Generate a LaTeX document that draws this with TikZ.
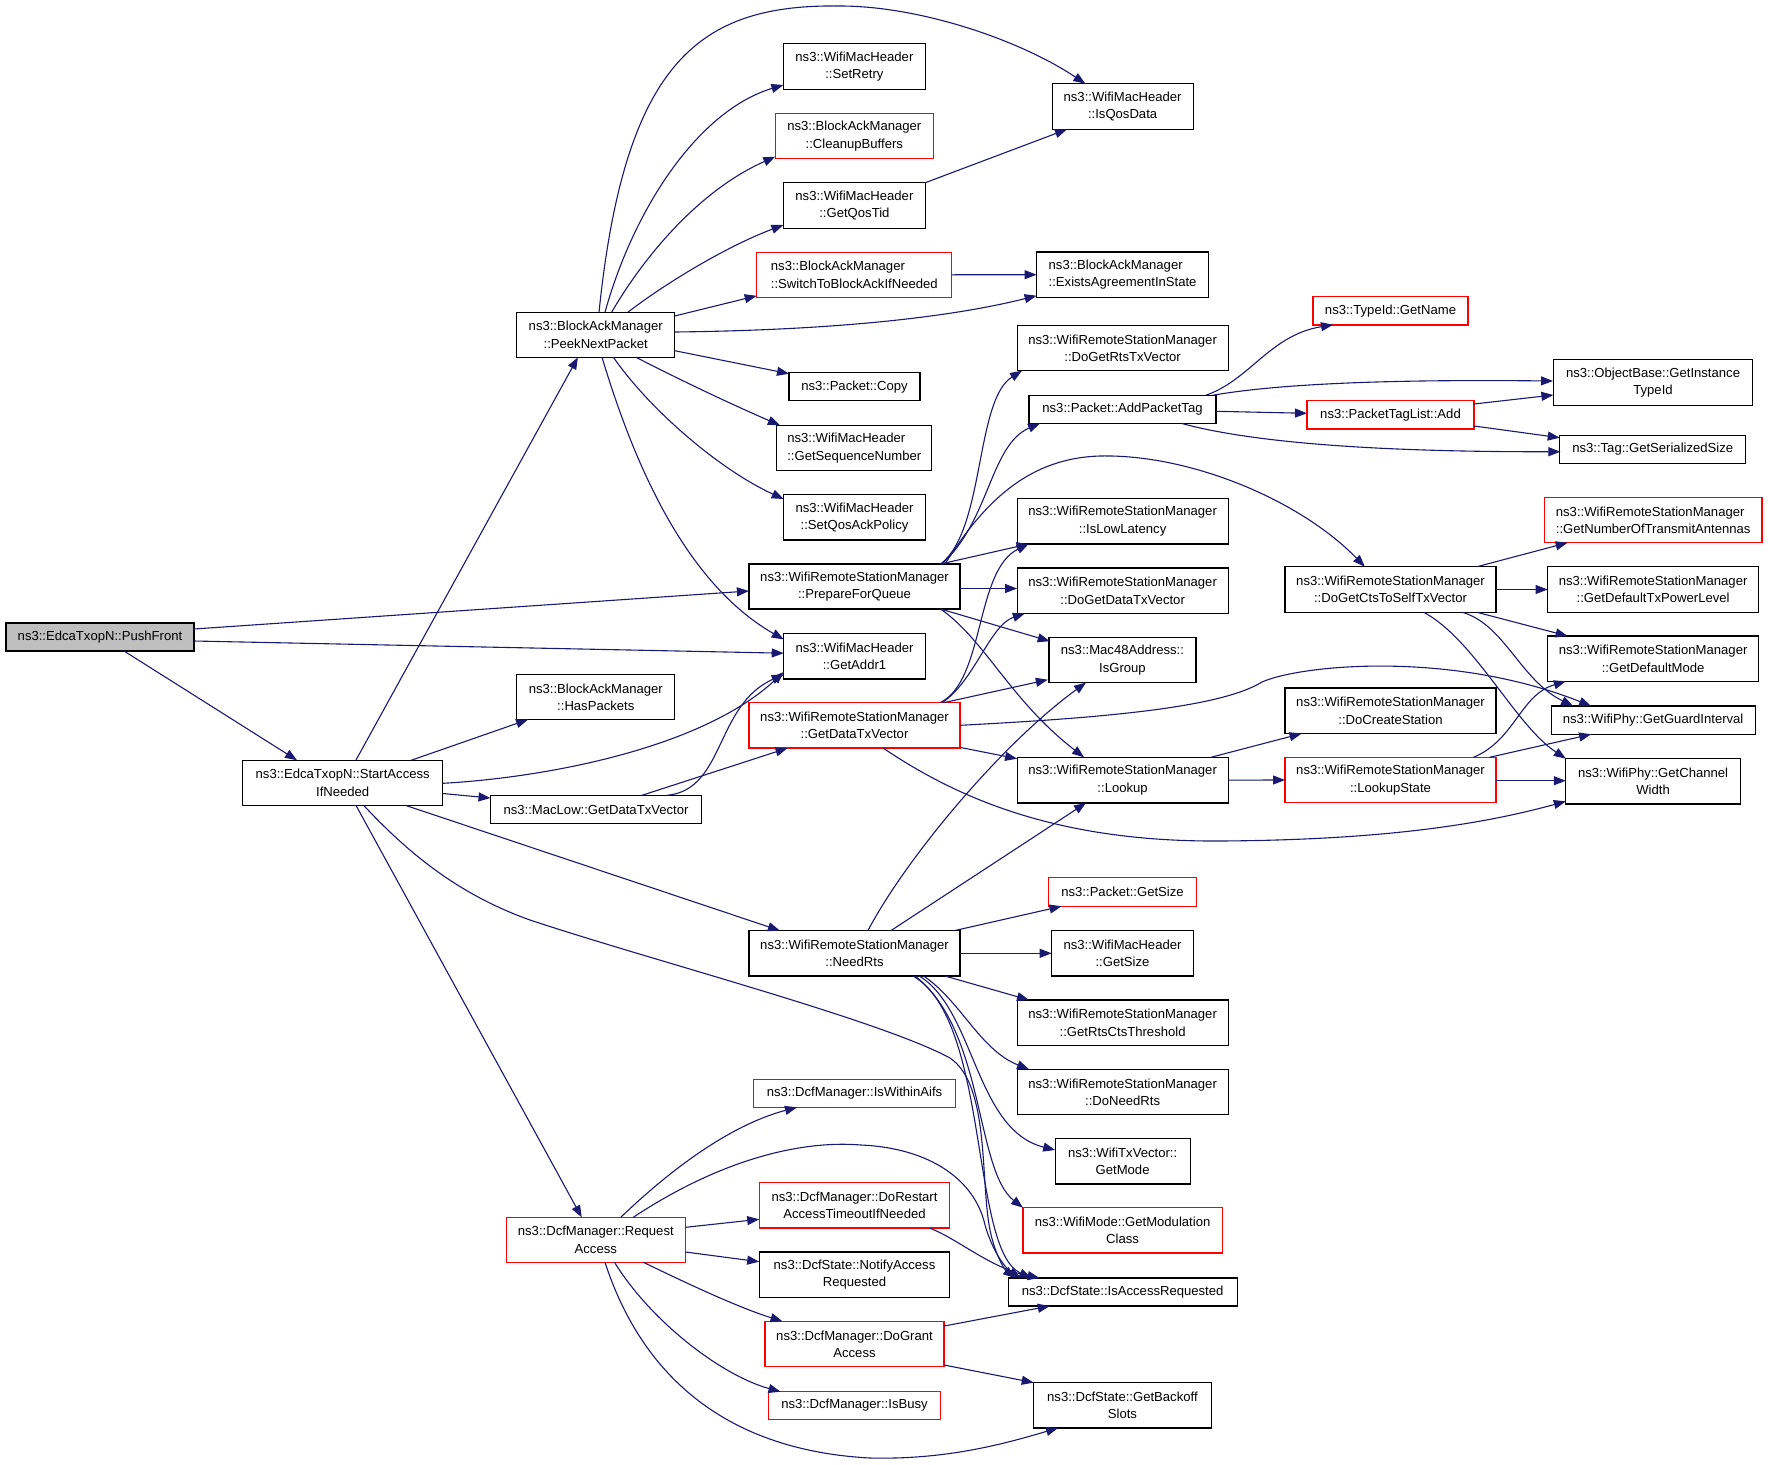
\documentclass[tikz,border=0pt]{standalone}
\usepackage{fontspec}
\setmainfont{Liberation Sans}
\usetikzlibrary{arrows.meta,calc}
\definecolor{mblue}{HTML}{191970}
\definecolor{gfill}{HTML}{BFBFBF}
\newcommand\fnt{\fontsize{13.1}{17.3}\selectfont}
\tikzset{
  box/.style={draw=black, line width=1.2pt, fill=white, inner sep=0pt, align=center, font=\fnt, text=black},
  rbox/.style={draw=red},
  gbox/.style={fill=gfill},
  ed/.style={draw=mblue, line width=1.1pt, -{Triangle[length=12pt,width=9pt]}}
}
\newcommand\bx[7][]{\node[box,#1,minimum width=#5pt,minimum height=#6pt] (#2) at (#3,#4) {#7};}
\begin{document}
\begin{tikzpicture}[x=1pt,y=-1pt]
\useasboundingbox (0,0) rectangle (1768,1464);
% nodes
\bx[gbox]{PF}{100}{637}{188}{28}{ns3::EdcaTxopN::PushFront}
\bx{SA}{342.7}{782.8}{200}{45}{ns3::EdcaTxopN::StartAccess\\IfNeeded}
\bx{PNP}{595.7}{334.7}{158}{45}{ns3::BlockAckManager\\::PeekNextPacket}
\bx{SR}{854.4}{66.5}{142}{45.5}{ns3::WifiMacHeader\\::SetRetry}
\bx[rbox]{CB}{854.3}{136}{158}{45.5}{ns3::BlockAckManager\\::CleanupBuffers}
\bx{GQT}{854.4}{205.5}{142}{45.5}{ns3::WifiMacHeader\\::GetQosTid}
\bx[rbox,align=left]{STB}{854.3}{274.8}{195}{45}{ns3::BlockAckManager\\::SwitchToBlockAckIfNeeded}
\bx{IQD}{1122.6}{106.5}{141}{45.5}{ns3::WifiMacHeader\\::IsQosData}
\bx[align=left]{EAS}{1122.6}{274.7}{172}{45.3}{ns3::BlockAckManager\\::ExistsAgreementInState}
\bx{PC}{854.5}{386.7}{131}{28}{ns3::Packet::Copy}
\bx[align=left]{GSN}{854.3}{448}{155}{45.4}{ns3::WifiMacHeader\\::GetSequenceNumber}
\bx{SQA}{854.5}{517.3}{142}{45.5}{ns3::WifiMacHeader\\::SetQosAckPolicy}
\bx{PFQ}{854.5}{586.5}{211}{45}{ns3::WifiRemoteStationManager\\::PrepareForQueue}
\bx{GA1}{854.5}{656.2}{142}{45.5}{ns3::WifiMacHeader\\::GetAddr1}
\bx{HP}{595.8}{697}{158}{45}{ns3::BlockAckManager\\::HasPackets}
\bx[rbox]{GDT}{854.5}{725.3}{211}{45.5}{ns3::WifiRemoteStationManager\\::GetDataTxVector}
\bx{MLG}{596}{809.5}{211}{28.4}{ns3::MacLow::GetDataTxVector}
\bx{NR}{854.5}{953.3}{211}{45.4}{ns3::WifiRemoteStationManager\\::NeedRts}
\bx{DGR}{1122.6}{348}{211}{45.4}{ns3::WifiRemoteStationManager\\::DoGetRtsTxVector}
\bx{APT}{1122.5}{409.3}{187}{28}{ns3::Packet::AddPacketTag}
\bx[rbox]{TGN}{1390.5}{310.8}{155}{28.3}{ns3::TypeId::GetName}
\bx{OBG}{1653}{382.5}{199}{45.6}{ns3::ObjectBase::GetInstance\\TypeId}
\bx[rbox]{PTA}{1390.5}{414.8}{167}{28.3}{ns3::PacketTagList::Add}
\bx{TGS}{1652.7}{449.3}{186}{28}{ns3::Tag::GetSerializedSize}
\bx{ILL}{1122.6}{521.2}{211}{45.6}{ns3::WifiRemoteStationManager\\::IsLowLatency}
\bx{DGD}{1122.6}{590.7}{211}{45.6}{ns3::WifiRemoteStationManager\\::DoGetDataTxVector}
\bx{MIG}{1122.4}{660}{147}{45.2}{ns3::Mac48Address::\\IsGroup}
\bx{LU}{1122.6}{780.1}{211}{45.6}{ns3::WifiRemoteStationManager\\::Lookup}
\bx[rbox]{PGS}{1122.5}{892}{148}{28.6}{ns3::Packet::GetSize}
\bx{WGS}{1122.5}{953.3}{141.6}{45.3}{ns3::WifiMacHeader\\::GetSize}
\bx{GRC}{1122.6}{1022.7}{211}{45.3}{ns3::WifiRemoteStationManager\\::GetRtsCtsThreshold}
\bx{DNR}{1122.6}{1092}{211}{45.4}{ns3::WifiRemoteStationManager\\::DoNeedRts}
\bx{TGM}{1122.6}{1161.3}{135}{45.3}{ns3::WifiTxVector::\\GetMode}
\bx[rbox]{GMC}{1122.6}{1230.3}{199.4}{45.3}{ns3::WifiMode::GetModulation\\Class}
\bx{IAR}{1122.6}{1292}{229}{28}{ns3::DcfState::IsAccessRequested}
\bx{GBS}{1122.4}{1405.3}{177.4}{45.3}{ns3::DcfState::GetBackoff\\Slots}
\bx[rbox]{IWA}{854.5}{1093.3}{201.5}{28}{ns3::DcfManager::IsWithinAifs}
\bx[rbox]{DRA}{854.5}{1205.3}{190.7}{45.3}{ns3::DcfManager::DoRestart\\AccessTimeoutIfNeeded}
\bx{NAR}{854.5}{1274.7}{190.7}{45.3}{ns3::DcfState::NotifyAccess\\Requested}
\bx[rbox]{DGA}{854.5}{1344}{179}{45.4}{ns3::DcfManager::DoGrant\\Access}
\bx[rbox]{IB}{854.5}{1405.3}{171.7}{28}{ns3::DcfManager::IsBusy}
\bx[rbox]{RA}{595.8}{1239.8}{179}{45}{ns3::DcfManager::Request\\Access}
\bx[rbox,align=left]{GNA}{1653.2}{520.2}{217.7}{45}{ns3::WifiRemoteStationManager\\::GetNumberOfTransmitAntennas}
\bx{DCS}{1390.5}{589.5}{211}{45.6}{ns3::WifiRemoteStationManager\\::DoGetCtsToSelfTxVector}
\bx{GTP}{1653.1}{589.5}{211}{45.6}{ns3::WifiRemoteStationManager\\::GetDefaultTxPowerLevel}
\bx{GDM}{1653.1}{658.7}{211}{45.3}{ns3::WifiRemoteStationManager\\::GetDefaultMode}
\bx{GGI}{1653.1}{720.2}{204}{28.3}{ns3::WifiPhy::GetGuardInterval}
\bx{GCW}{1653.1}{781.3}{174.6}{45.3}{ns3::WifiPhy::GetChannel\\Width}
\bx{DCR}{1390.5}{710.8}{211}{45.7}{ns3::WifiRemoteStationManager\\::DoCreateStation}
\bx[rbox]{LS}{1390.5}{780}{211}{45.4}{ns3::WifiRemoteStationManager\\::LookupState}
% edges
\draw[ed] ($(PF)+(24,14)$) -- ($(SA)+(-45.7,-22.6)$);
\draw[ed] ($(PF)+(94,-8)$) -- ($(PFQ)+(-105.6,4.5)$);
\draw[ed] ($(PF)+(94,4)$) -- ($(GA1)+(-70.8,-3)$);
\draw[ed] ($(SA)+(13.2,-22.6)$) -- ($(PNP)+(-17.8,22.6)$);
\draw[ed] ($(SA)+(68.7,-22.6)$) -- ($(HP)+(-67.7,22.5)$);
\draw[ed] ($(SA)+(100,0.5)$) .. controls (540,778) and (700,750) .. ($(GA1)+(-70.8,15.8)$);
\draw[ed] ($(SA)+(100,10.7)$) -- ($(MLG)+(-105.5,-11.5)$);
\draw[ed] ($(SA)+(63,22.6)$) -- ($(NR)+(-74.6,-22.7)$);
\draw[ed] ($(SA)+(21,22.6)$) .. controls (410,855) and (460,895) .. (530,920) .. controls (650,960) and (880,1020) .. (950,1058) .. controls (990,1085) and (980,1180) .. (990,1230) .. controls (995,1255) and (1005,1270) .. ($(IAR)+(-107.6,-14)$);
\draw[ed] ($(SA)+(13.3,22.6)$) -- ($(RA)+(-14.1,-22.5)$);
\draw[ed] ($(PNP)+(9.3,-22.6)$) .. controls (635,205) and (700,110) .. ($(SR)+(-71,18.5)$);
\draw[ed] ($(PNP)+(16,-22.6)$) .. controls (645,255) and (700,190) .. ($(CB)+(-79,20.7)$);
\draw[ed] ($(PNP)+(32.3,-22.6)$) .. controls (670,280) and (730,245) .. ($(GQT)+(-71,19.5)$);
\draw[ed] ($(PNP)+(79,-18.7)$) -- ($(STB)+(-97.6,21)$);
\draw[ed] ($(PNP)+(79,-2.7)$) .. controls (850,330) and (960,315) .. ($(EAS)+(-86,21)$);
\draw[ed] ($(PNP)+(3.3,-22.6)$) .. controls (625,60) and (700,4) .. (840,6) .. controls (920,6) and (1020,40) .. ($(IQD)+(-37.3,-22.8)$);
\draw[ed] ($(PNP)+(79,16)$) -- ($(PC)+(-65.5,-13)$);
\draw[ed] ($(PNP)+(40.3,22.6)$) .. controls (690,385) and (740,408) .. ($(GSN)+(-74.4,-22.7)$);
\draw[ed] ($(PNP)+(17.7,22.6)$) .. controls (650,410) and (720,470) .. ($(SQA)+(-70.8,-18.3)$);
\draw[ed] ($(PNP)+(6.3,22.6)$) .. controls (630,450) and (680,580) .. ($(GA1)+(-70.8,-16.8)$);
\draw[ed] ($(GQT)+(70.9,-22.8)$) -- ($(IQD)+(-55.6,22.8)$);
\draw[ed] ($(STB)+(97.7,0)$) -- ($(EAS)+(-86,0)$);
\draw[ed] ($(MLG)+(71,-14.2)$) .. controls (725,790) and (715,705) .. ($(GA1)+(-70.8,18.3)$);
\draw[ed] ($(MLG)+(46,-14.2)$) -- ($(GDT)+(-67,22.8)$);
\draw[ed] ($(PFQ)+(86.1,-22.5)$) .. controls (985,530) and (975,400) .. ($(DGR)+(-100.6,22.7)$);
\draw[ed] ($(PFQ)+(87.5,-22.5)$) .. controls (990,520) and (990,445) .. ($(APT)+(-82.5,14)$);
\draw[ed] ($(PFQ)+(90.5,-22.5)$) .. controls (985,500) and (1030,458) .. (1100,456) .. controls (1190,454) and (1300,500) .. ($(DCS)+(-25.7,-22.8)$);
\draw[ed] ($(PFQ)+(86,-22.5)$) -- ($(ILL)+(-94,22.8)$);
\draw[ed] ($(PFQ)+(105.6,2)$) -- ($(DGD)+(-105.5,-2.2)$);
\draw[ed] ($(PFQ)+(86.1,22.5)$) -- ($(MIG)+(-72.7,-18.8)$);
\draw[ed] ($(PFQ)+(86.1,22.5)$) .. controls (985,640) and (1010,700) .. ($(LU)+(-38.6,-22.8)$);
\draw[ed] ($(GDT)+(86,-22.8)$) .. controls (985,680) and (975,570) .. ($(ILL)+(-94,22.8)$);
\draw[ed] ($(GDT)+(88,-22.8)$) .. controls (975,680) and (990,625) .. ($(DGD)+(-97.8,22.8)$);
\draw[ed] ($(GDT)+(90,-22.8)$) -- ($(MIG)+(-74.6,19.7)$);
\draw[ed] ($(GDT)+(105.6,22.1)$) -- ($(LU)+(-105.5,-21.4)$);
\draw[ed] ($(GDT)+(105.6,0)$) .. controls (1100,718) and (1220,708) .. (1262,682) .. controls (1300,665) and (1450,650) .. ($(GGI)+(-62,-14.2)$);
\draw[ed] ($(GDT)+(28.7,22.8)$) .. controls (960,800) and (1060,842) .. (1220,841) .. controls (1380,840) and (1480,825) .. ($(GCW)+(-87.3,20)$);
\draw[ed] ($(APT)+(83.2,-14)$) .. controls (1250,380) and (1270,335) .. ($(TGN)+(-57.5,14)$);
\draw[ed] ($(APT)+(90,-14)$) .. controls (1300,380) and (1450,380) .. ($(OBG)+(-100,-1.5)$);
\draw[ed] ($(APT)+(93.5,2)$) -- ($(PTA)+(-83.5,-1.5)$);
\draw[ed] ($(APT)+(58.7,14)$) .. controls (1260,445) and (1400,452) .. ($(TGS)+(-92.3,2.4)$);
\draw[ed] ($(PTA)+(83.5,-10.8)$) -- ($(OBG)+(-99.6,12.5)$);
\draw[ed] ($(PTA)+(83.5,11.2)$) -- ($(TGS)+(-93,-11.6)$);
\draw[ed] ($(DCS)+(86.5,-22.8)$) -- ($(GNA)+(-85.6,22.5)$);
\draw[ed] ($(DCS)+(105.5,0)$) -- ($(GTP)+(-105.5,0)$);
\draw[ed] ($(DCS)+(86.5,22.8)$) -- ($(GDM)+(-85.5,-22.7)$);
\draw[ed] ($(DCS)+(72,22.8)$) .. controls (1505,625) and (1520,680) .. ($(GGI)+(-80,-14.2)$);
\draw[ed] ($(DCS)+(33.3,22.8)$) .. controls (1475,640) and (1515,725) .. ($(GCW)+(-87.3,-22.7)$);
\draw[ed] ($(LU)+(88.3,-22.8)$) -- ($(DCR)+(-89,22.8)$);
\draw[ed] ($(LU)+(105.5,0)$) -- ($(LS)+(-105.5,0)$);
\draw[ed] ($(LS)+(83,-22.7)$) .. controls (1515,740) and (1520,695) .. ($(GDM)+(-87.3,22.6)$);
\draw[ed] ($(LS)+(99,-22.7)$) -- ($(GGI)+(-62,14.1)$);
\draw[ed] ($(LS)+(105.5,0.7)$) -- ($(GCW)+(-87.3,-0.6)$);
\draw[ed] ($(NR)+(13.4,-22.7)$) .. controls (905,860) and (1000,745) .. ($(MIG)+(-36.4,22.6)$);
\draw[ed] ($(NR)+(36.4,-22.7)$) -- ($(LU)+(-36.6,22.8)$);
\draw[ed] ($(NR)+(100,-22.7)$) -- ($(PGS)+(-61,14.3)$);
\draw[ed] ($(NR)+(105.5,0)$) -- ($(WGS)+(-70.8,0)$);
\draw[ed] ($(NR)+(90.5,22.7)$) -- ($(GRC)+(-93.6,-22.7)$);
\draw[ed] ($(NR)+(69,22.7)$) .. controls (960,1000) and (980,1050) .. ($(DNR)+(-93.6,-22.7)$);
\draw[ed] ($(NR)+(64.7,22.7)$) .. controls (975,1010) and (975,1130) .. ($(TGM)+(-67.4,-11.3)$);
\draw[ed] ($(NR)+(60.5,22.7)$) .. controls (985,1030) and (975,1170) .. ($(GMC)+(-99.7,-22.6)$);
\draw[ed] ($(NR)+(58.5,22.7)$) .. controls (990,1020) and (970,1250) .. ($(IAR)+(-91.4,-14)$);
\draw[ed] ($(RA)+(25,-22.5)$) .. controls (670,1170) and (730,1125) .. ($(IWA)+(-57.5,14)$);
\draw[ed] ($(RA)+(37.4,-22.5)$) .. controls (720,1160) and (800,1140) .. (861,1145) .. controls (930,1148) and (975,1180) .. (985,1225) .. controls (992,1250) and (1005,1268) .. ($(IAR)+(-102,-14)$);
\draw[ed] ($(RA)+(89.6,-12.5)$) -- ($(DRA)+(-95.3,14)$);
\draw[ed] ($(RA)+(89.6,12.2)$) -- ($(NAR)+(-95.3,-13)$);
\draw[ed] ($(RA)+(47.7,22.5)$) .. controls (690,1285) and (740,1308) .. ($(DGA)+(-72,-22.7)$);
\draw[ed] ($(RA)+(18.7,22.5)$) .. controls (650,1320) and (720,1375) .. ($(IB)+(-74,-13.6)$);
\draw[ed] ($(RA)+(9.2,22.5)$) .. controls (640,1370) and (720,1450) .. (870,1458) .. controls (950,1460) and (1010,1442) .. ($(GBS)+(-64.3,22.7)$);
\draw[ed] ($(DRA)+(75,22.7)$) .. controls (960,1240) and (990,1268) .. ($(IAR)+(-83,-14)$);
\draw[ed] ($(DGA)+(89.6,-18)$) -- ($(IAR)+(-72.8,14)$);
\draw[ed] ($(DGA)+(89.6,21)$) -- ($(GBS)+(-88.7,-22.7)$);
\end{tikzpicture}
\end{document}
